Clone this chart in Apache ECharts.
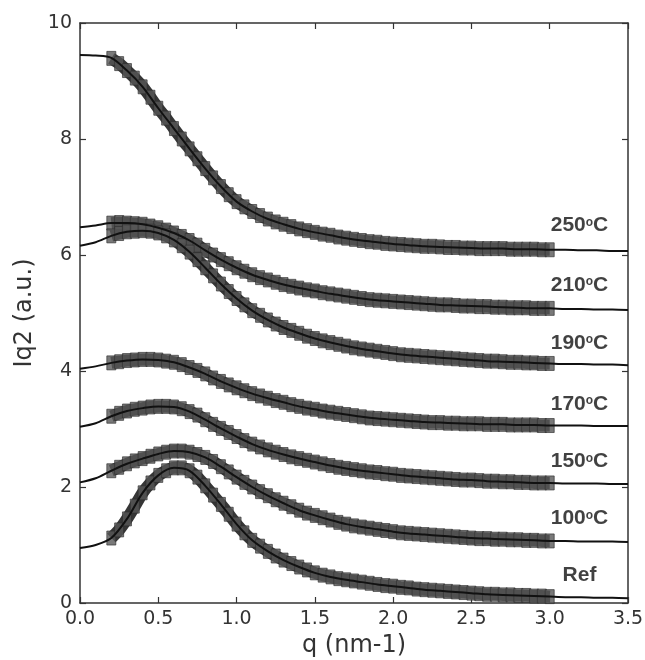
<!DOCTYPE html>
<html>
<head>
<meta charset="utf-8">
<script src="https://cdn.jsdelivr.net/npm/echarts@6/dist/echarts.min.js"></script>
<style>html,body{margin:0;padding:0;background:#fff;}#c{width:645px;height:660px;}</style>
</head>
<body>
<div id="c"></div>
<script>
// q positions of the fitted curves and the measured points
const qFit = [0,0.1,0.2,0.3,0.4,0.5,0.6,0.7,0.8,0.9,1.0,1.1,1.2,1.3,1.4,1.5,1.6,1.7,1.8,1.9,2.0,2.1,2.2,2.3,2.4,2.5,2.6,2.7,2.8,2.9,3.0,3.1,3.2,3.3,3.4,3.5];
const qData = [0.2,0.25,0.3,0.35,0.4,0.45,0.5,0.55,0.6,0.65,0.7,0.75,0.8,0.85,0.9,0.95,1.0,
  1.05,1.1,1.15,1.2,1.25,1.3,1.35,1.4,1.45,1.5,1.55,1.6,1.65,1.7,1.75,1.8,1.85,1.9,1.95,2.0,
  2.05,2.1,2.15,2.2,2.25,2.3,2.35,2.4,2.45,2.5,2.55,2.6,2.65,2.7,2.75,2.8,2.85,2.9,2.95,3.0];

// fitted curves (black lines)
const fit250 = [9.45,9.44,9.40,9.18,8.90,8.53,8.18,7.83,7.49,7.18,6.92,6.75,6.62,6.53,6.45,6.39,6.34,6.29,6.25,6.22,6.19,6.17,6.15,6.14,6.13,6.12,6.11,6.11,6.10,6.10,6.09,6.09,6.08,6.08,6.07,6.07];
const fit210 = [6.48,6.51,6.55,6.55,6.53,6.47,6.38,6.25,6.08,5.92,5.78,5.66,5.57,5.49,5.43,5.38,5.33,5.29,5.25,5.22,5.20,5.18,5.16,5.14,5.13,5.12,5.11,5.10,5.09,5.08,5.08,5.07,5.07,5.06,5.06,5.05];
const fit190 = [6.16,6.22,6.33,6.40,6.42,6.38,6.26,6.05,5.78,5.50,5.25,5.04,4.88,4.75,4.65,4.56,4.49,4.43,4.38,4.34,4.30,4.27,4.25,4.23,4.21,4.19,4.17,4.16,4.15,4.14,4.13,4.12,4.12,4.11,4.11,4.10];
const fit170 = [4.04,4.08,4.14,4.18,4.20,4.19,4.15,4.06,3.95,3.82,3.71,3.61,3.53,3.46,3.39,3.34,3.29,3.25,3.21,3.18,3.16,3.14,3.12,3.11,3.10,3.09,3.08,3.08,3.07,3.07,3.06,3.06,3.06,3.05,3.05,3.05];
const fit150 = [3.04,3.10,3.22,3.31,3.36,3.39,3.38,3.30,3.16,3.01,2.87,2.74,2.64,2.56,2.49,2.43,2.37,2.32,2.28,2.25,2.22,2.19,2.17,2.15,2.13,2.12,2.10,2.09,2.08,2.07,2.07,2.06,2.06,2.06,2.05,2.05];
const fit100 = [2.08,2.15,2.28,2.40,2.49,2.57,2.62,2.60,2.51,2.35,2.17,2.00,1.85,1.72,1.60,1.51,1.43,1.36,1.31,1.27,1.23,1.20,1.18,1.16,1.14,1.12,1.11,1.10,1.09,1.08,1.07,1.07,1.06,1.06,1.06,1.05];
const fitRef = [0.95,1.00,1.12,1.45,1.90,2.20,2.33,2.28,2.02,1.70,1.36,1.08,0.89,0.74,0.62,0.52,0.45,0.40,0.36,0.32,0.29,0.26,0.23,0.21,0.19,0.17,0.15,0.14,0.13,0.12,0.11,0.10,0.10,0.09,0.09,0.08];

// measured points (grey squares)
const data250 = [9.39,9.30,9.18,9.05,8.90,8.72,8.53,8.36,8.18,8.00,7.83,7.66,7.49,7.33,7.18,7.04,6.92,
  6.83,6.75,6.68,6.62,6.57,6.53,6.49,6.45,6.42,6.39,6.36,6.34,6.31,6.29,6.27,6.25,6.23,6.22,6.20,6.19,
  6.18,6.17,6.16,6.15,6.15,6.14,6.13,6.13,6.12,6.12,6.11,6.11,6.11,6.11,6.10,6.10,6.10,6.10,6.09,6.09];
const data210 = [6.55,6.56,6.55,6.54,6.53,6.50,6.47,6.43,6.38,6.32,6.25,6.17,6.08,6.00,5.92,5.85,5.78,
  5.72,5.66,5.61,5.57,5.53,5.49,5.46,5.43,5.40,5.38,5.35,5.33,5.31,5.29,5.27,5.25,5.23,5.22,5.21,5.20,
  5.19,5.18,5.17,5.16,5.15,5.14,5.14,5.13,5.12,5.12,5.11,5.11,5.10,5.10,5.09,5.09,5.09,5.08,5.08,5.08];
const data190 = [6.33,6.37,6.40,6.41,6.42,6.41,6.38,6.33,6.26,6.16,6.05,5.92,5.78,5.64,5.50,5.37,5.25,
  5.14,5.04,4.96,4.88,4.81,4.75,4.70,4.65,4.60,4.56,4.52,4.49,4.46,4.43,4.40,4.38,4.36,4.34,4.32,4.30,
  4.28,4.27,4.26,4.25,4.24,4.23,4.22,4.21,4.20,4.19,4.18,4.17,4.17,4.16,4.15,4.15,4.14,4.14,4.13,4.13];
const data170 = [4.14,4.16,4.18,4.19,4.20,4.20,4.19,4.17,4.15,4.11,4.06,4.01,3.95,3.88,3.82,3.76,3.71,
  3.66,3.61,3.57,3.53,3.49,3.46,3.42,3.39,3.36,3.34,3.31,3.29,3.27,3.25,3.23,3.21,3.19,3.18,3.17,3.16,
  3.15,3.14,3.13,3.12,3.11,3.11,3.10,3.10,3.09,3.09,3.09,3.08,3.08,3.08,3.07,3.07,3.07,3.07,3.06,3.06];
const data150 = [3.22,3.27,3.31,3.34,3.36,3.38,3.39,3.39,3.38,3.35,3.30,3.24,3.16,3.08,3.01,2.94,2.87,
  2.80,2.74,2.69,2.64,2.60,2.56,2.52,2.49,2.46,2.43,2.40,2.37,2.34,2.32,2.30,2.28,2.26,2.25,2.23,2.22,
  2.20,2.19,2.18,2.17,2.16,2.15,2.14,2.13,2.12,2.12,2.11,2.10,2.10,2.09,2.09,2.08,2.08,2.07,2.07,2.07];
const data100 = [2.28,2.34,2.40,2.45,2.49,2.53,2.57,2.60,2.62,2.62,2.60,2.56,2.51,2.44,2.35,2.26,2.17,
  2.08,2.00,1.92,1.85,1.78,1.72,1.66,1.60,1.55,1.51,1.47,1.43,1.39,1.36,1.33,1.31,1.29,1.27,1.25,1.23,
  1.21,1.20,1.19,1.18,1.17,1.16,1.15,1.14,1.13,1.12,1.11,1.11,1.10,1.10,1.09,1.09,1.08,1.08,1.07,1.07];
const dataRef = [1.12,1.26,1.45,1.67,1.90,2.07,2.20,2.28,2.33,2.33,2.28,2.17,2.02,1.86,1.70,1.53,1.36,
  1.21,1.08,0.98,0.89,0.81,0.74,0.68,0.62,0.57,0.52,0.48,0.45,0.42,0.40,0.38,0.36,0.34,0.32,0.30,0.29,
  0.27,0.26,0.24,0.23,0.22,0.21,0.20,0.19,0.18,0.17,0.16,0.15,0.15,0.14,0.14,0.13,0.13,0.12,0.12,0.11];

// curve labels
const labelNames = ['250', '210', '190', '170', '150', '100', 'Ref'];
const labelQ = [3.19, 3.19, 3.19, 3.19, 3.19, 3.19, 3.19];
const labelV = [6.51, 5.48, 4.48, 3.43, 2.44, 1.46, 0.48];

const fits = [fit250, fit210, fit190, fit170, fit150, fit100, fitRef];
const datas = [data250, data210, data190, data170, data150, data100, dataRef];

const pairs = (xs, ys) => xs.map((x, i) => [x, ys[i]]);
const axisColor = '#333';
const tickFont = { fontFamily: 'DejaVu Sans', fontSize: 19, color: '#333' };

const series = [];
// dense marker band: points overlap into a continuous dark band
datas.forEach((d) => {
  series.push({
    type: 'line',
    data: pairs(qData, d),
    showSymbol: false,
    smooth: 0.3,
    z: 1,
    silent: true,
    lineStyle: { color: '#363636', width: 12, cap: 'butt', join: 'round' }
  });
});
datas.forEach((d) => {
  series.push({
    type: 'scatter',
    data: pairs(qData, d),
    symbol: 'rect',
    symbolSize: [9, 14],
    z: 2,
    silent: true,
    itemStyle: { color: '#575757', borderColor: '#2e2e2e', borderWidth: 0.8 }
  });
});
fits.forEach((f) => {
  series.push({
    type: 'line',
    data: pairs(qFit, f),
    showSymbol: false,
    smooth: 0.3,
    z: 3,
    silent: true,
    lineStyle: { color: '#111', width: 2 }
  });
});
series.push({
  type: 'scatter',
  data: labelNames.map((n, i) => ({ value: [labelQ[i], labelV[i]], name: n })),
  symbolSize: 0,
  z: 5,
  silent: true,
  itemStyle: { color: 'transparent' },
  label: {
    show: true,
    position: 'inside',
    formatter: (p) => p.name === 'Ref' ? '{n|Ref}' : '{n|' + p.name + '}{s|o}{n|C}',
    rich: {
      n: { fontFamily: 'Liberation Sans', fontWeight: 'bold', fontSize: 21, color: '#111', lineHeight: 22 },
      s: { fontFamily: 'Liberation Sans', fontWeight: 'bold', fontSize: 12, color: '#111', lineHeight: 22, verticalAlign: 'top', padding: [2, 0, 0, 0] }
    }
  }
});

const baseX = {
  type: 'value', min: 0, max: 3.5, interval: 0.5,
  axisLine: { show: true, onZero: false, lineStyle: { color: axisColor, width: 1.5 } },
  axisTick: { show: true, inside: true, length: 6, lineStyle: { color: axisColor, width: 1.2 } },
  splitLine: { show: false }
};
const baseY = {
  type: 'value', min: 0, max: 10, interval: 2,
  axisLine: { show: true, onZero: false, lineStyle: { color: axisColor, width: 1.5 } },
  axisTick: { show: true, inside: true, length: 6, lineStyle: { color: axisColor, width: 1.2 } },
  splitLine: { show: false }
};

const chart = echarts.init(document.getElementById('c'), null, { renderer: 'canvas' });
chart.setOption({
  animation: false,
  backgroundColor: '#fff',
  grid: { left: 80, right: 17, top: 23, bottom: 57, containLabel: false, outerBoundsMode: 'none' },
  xAxis: [
    Object.assign({}, baseX, {
      position: 'bottom',
      name: 'q (nm-1)', nameLocation: 'middle', nameGap: 23,
      nameTextStyle: { fontFamily: 'DejaVu Sans', fontSize: 24, color: '#333' },
      axisLabel: Object.assign({ margin: 7, formatter: (v) => v.toFixed(1) }, tickFont)
    }),
    Object.assign({}, baseX, { position: 'top', axisLabel: { show: false } })
  ],
  yAxis: [
    Object.assign({}, baseY, {
      position: 'left',
      name: 'Iq2 (a.u.)', nameLocation: 'middle', nameGap: 43,
      nameTextStyle: { fontFamily: 'DejaVu Sans', fontSize: 24, color: '#333' },
      axisLabel: Object.assign({ margin: 8 }, tickFont)
    }),
    Object.assign({}, baseY, { position: 'right', axisLabel: { show: false } })
  ],
  series: series
});
</script>
</body>
</html>
